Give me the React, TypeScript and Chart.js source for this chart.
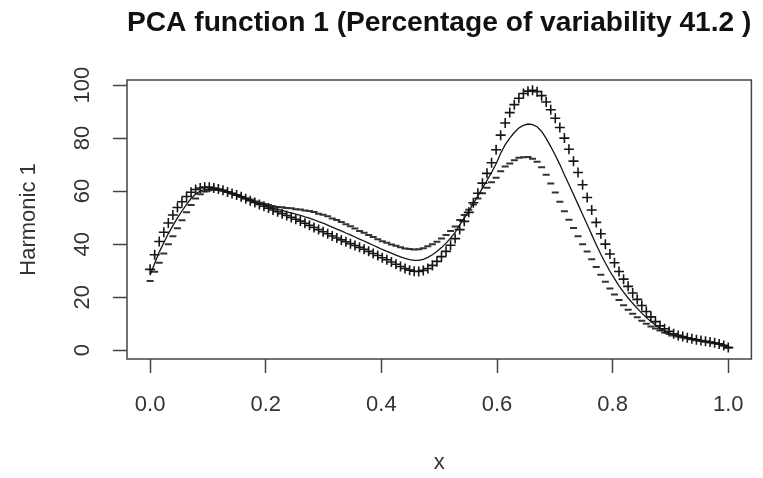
import React, { useEffect, useRef } from "react";
import { Chart, registerables } from "chart.js";

Chart.register(...registerables);

// Mean function evaluated on a regular grid of 128 points over [0, 1]
const meanCurve = [
  28.3, 32.8, 37.0, 40.5, 44.0, 47.0, 49.9, 52.5, 55.0, 57.2,
  58.9, 60.0, 60.7, 60.9, 60.9, 60.6, 60.2, 59.7, 59.1, 58.5,
  57.9, 57.2, 56.6, 55.9, 55.3, 54.7, 54.2, 53.6, 53.1, 52.7,
  52.2, 51.8, 51.3, 50.9, 50.3, 49.8, 49.2, 48.5, 47.9, 47.2,
  46.4, 45.7, 45.0, 44.2, 43.5, 42.7, 41.9, 41.2, 40.4, 39.6,
  38.8, 38.0, 37.3, 36.6, 35.9, 35.2, 34.6, 34.2, 33.9, 33.9,
  34.3, 35.0, 36.0, 37.2, 38.7, 40.4, 42.3, 44.4, 47.3, 49.8,
  52.5, 55.3, 58.2, 61.1, 64.0, 67.0, 70.3, 74.3, 77.5, 80.0,
  82.1, 83.8, 84.8, 85.3, 85.1, 84.3, 82.5, 79.9, 76.8, 73.5,
  70.0, 66.2, 62.5, 58.7, 55.0, 51.2, 47.4, 43.6, 39.8, 36.2,
  32.9, 29.8, 27.0, 24.3, 21.9, 19.7, 17.7, 15.8, 14.0, 12.3,
  10.8, 9.5, 8.3, 7.4, 6.6, 5.9, 5.4, 5.0, 4.6, 4.2,
  3.9, 3.6, 3.3, 3.0, 2.7, 2.4, 1.8, 1.0,
];

// Scaled first harmonic: added (+) and subtracted (-) from the mean
const pcShift = [
  2.2, 3.2, 4.0, 4.0, 4.0, 4.0, 3.9, 3.5, 3.0, 2.4,
  1.7, 1.2, 0.8, 0.6, 0.3, 0.2, 0.1, 0.0, 0.0, 0.0,
  0.0, -0.1, -0.2, -0.2, -0.3, -0.4, -0.6, -0.7, -0.9, -1.2,
  -1.4, -1.7, -1.9, -2.2, -2.4, -2.7, -2.9, -3.0, -3.2, -3.3,
  -3.3, -3.4, -3.4, -3.3, -3.3, -3.2, -3.1, -3.1, -3.1, -3.1,
  -3.1, -3.1, -3.2, -3.3, -3.5, -3.6, -3.8, -4.0, -4.1, -4.2,
  -4.2, -4.2, -4.0, -3.7, -3.4, -3.1, -2.7, -2.3, -1.8, -1.2,
  -0.5, 0.3, 1.0, 1.9, 2.7, 3.7, 5.3, 6.8, 8.2, 9.6,
  10.5, 11.2, 12.0, 12.4, 12.9, 13.2, 13.5, 13.7, 13.9, 14.0,
  14.0, 13.8, 13.3, 12.6, 12.0, 11.2, 10.2, 9.3, 8.4, 7.7,
  7.1, 6.5, 6.0, 5.4, 4.9, 4.4, 3.9, 3.4, 2.9, 2.3,
  1.8, 1.3, 0.9, 0.7, 0.5, 0.3, 0.2, 0.2, 0.1, 0.1,
  0.1, 0.1, 0.1, 0.1, 0.1, 0.0, 0.0, 0.0,
];

const xTicks = [0, 0.2, 0.4, 0.6, 0.8, 1.0];
const yTicks = [0, 20, 40, 60, 80, 100];

const titleText = "PCA function 1 (Percentage of variability 41.2 )";
const xLabel = "x";
const yLabel = "Harmonic 1";

const W = 763;
const H = 478;
const FONT = "'Liberation Sans', Arial, sans-serif";

// evaluation grid: seq(0, 1, length = 128)
const argvals = meanCurve.map((_, i) => i / (meanCurve.length - 1));

const plotFrame = {
  id: "plotFrame",
  afterDraw(chart: any) {
    const { ctx, chartArea: a } = chart;
    ctx.save();
    ctx.strokeStyle = "#444";
    ctx.lineWidth = 1.5;
    ctx.strokeRect(a.left, a.top, a.right - a.left, a.bottom - a.top);
    ctx.restore();
  },
};

export default function App() {
  const ref = useRef<HTMLCanvasElement | null>(null);

  useEffect(() => {
    if (!ref.current) return;
    const meanPts = argvals.map((x, i) => ({ x, y: meanCurve[i] }));
    const plusPts = argvals.map((x, i) => ({ x, y: meanCurve[i] + pcShift[i] }));
    const minusPts = argvals.map((x, i) => ({ x, y: meanCurve[i] - pcShift[i] }));

    const chart = new Chart(ref.current, {
      type: "scatter",
      data: {
        datasets: [
          {
            label: "mean",
            data: meanPts,
            showLine: true,
            borderColor: "#151515",
            borderWidth: 1.3,
            pointRadius: 0,
            tension: 0,
          },
          {
            label: "+",
            data: plusPts,
            showLine: false,
            pointStyle: "cross",
            pointRadius: 5,
            borderColor: "#161616",
            pointBorderWidth: 1.6,
          },
          {
            label: "-",
            data: minusPts,
            showLine: false,
            pointStyle: "line",
            pointRadius: 3.5,
            borderColor: "#333",
            pointBorderWidth: 2,
          },
        ],
      },
      options: {
        animation: false,
        responsive: false,
        devicePixelRatio: 1,
        layout: { padding: { left: 0, right: 10, top: 0, bottom: 0 } },
        plugins: {
          legend: { display: false },
          tooltip: { enabled: false },
          title: {
            display: true,
            text: titleText,
            fullSize: false,
            color: "#111",
            font: { family: FONT, size: 28.5, weight: "bold", lineHeight: 1.2 },
            padding: { top: 6, bottom: 39.8 },
          },
        },
        scales: {
          x: {
            type: "linear",
            min: -0.04,
            max: 1.04,
            afterBuildTicks: (s: any) => {
              s.ticks = xTicks.map((v) => ({ value: v }));
            },
            afterFit: (s: any) => {
              s.height = H - 359;
            },
            ticks: {
              autoSkip: false,
              minRotation: 0,
              maxRotation: 0,
              padding: 19,
              color: "#333",
              font: { family: FONT, size: 22 },
              callback: (v: any) => Number(v).toFixed(1),
            },
            grid: {
              drawOnChartArea: false,
              drawTicks: true,
              tickLength: 14,
              tickColor: "#444",
              tickWidth: 1.5,
            },
            border: { display: false },
            title: {
              display: true,
              text: xLabel,
              color: "#333",
              font: { family: FONT, size: 22, lineHeight: 1.2 },
              padding: { top: 0, bottom: 2 },
            },
          },
          y: {
            type: "linear",
            min: -3.3,
            max: 101.9,
            afterBuildTicks: (s: any) => {
              s.ticks = yTicks.map((v) => ({ value: v }));
            },
            afterFit: (s: any) => {
              s.width = 127;
            },
            ticks: {
              autoSkip: false,
              minRotation: 90,
              maxRotation: 90,
              crossAlign: "center",
              padding: 12,
              color: "#333",
              font: { family: FONT, size: 22 },
              callback: (v: any) => String(v),
            },
            grid: {
              drawOnChartArea: false,
              drawTicks: true,
              tickLength: 14,
              tickColor: "#444",
              tickWidth: 1.5,
            },
            border: { display: false },
            title: {
              display: true,
              text: yLabel,
              color: "#333",
              font: { family: FONT, size: 22, lineHeight: 1.2 },
              padding: { top: 16, bottom: 0 },
            },
          },
        },
      },
      plugins: [plotFrame],
    } as any);

    return () => chart.destroy();
  }, []);

  return (
    <div style={{ position: "absolute", left: 0, top: 0, width: W, height: H, background: "#fff" }}>
      <canvas ref={ref} width={W} height={H} style={{ display: "block" }} />
    </div>
  );
}
